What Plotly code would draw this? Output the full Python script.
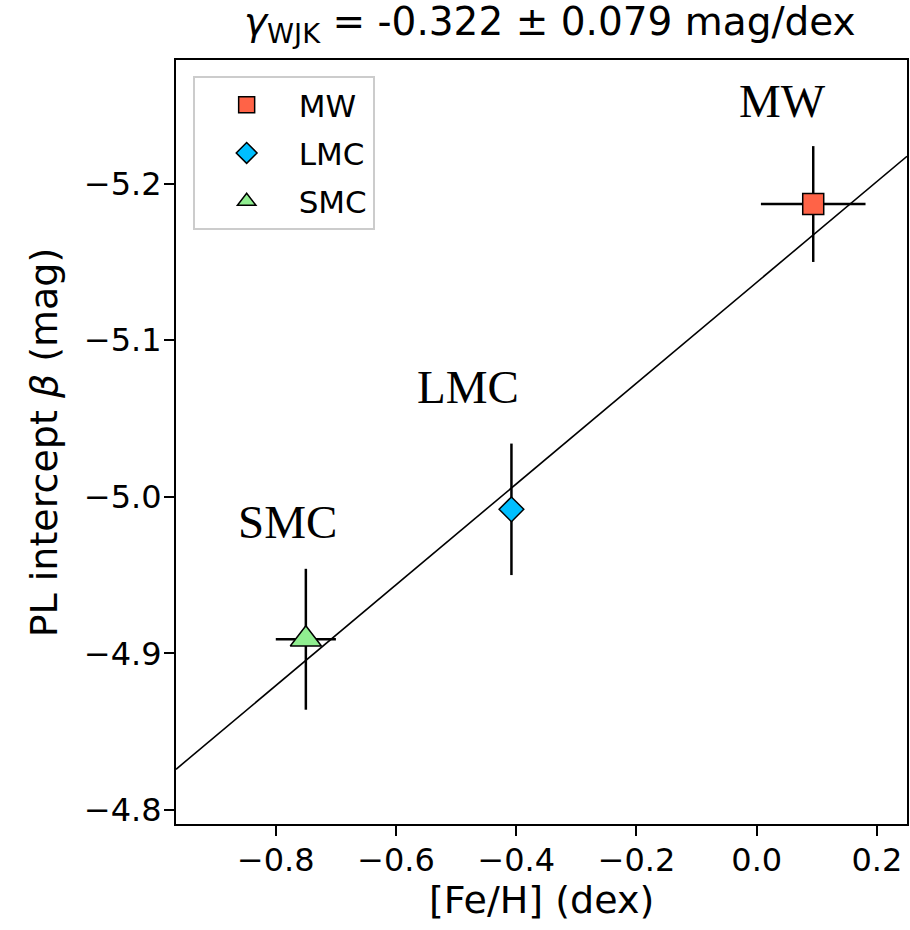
import plotly.graph_objects as go

# ---------------- data ----------------
galaxies = ["MW", "LMC", "SMC"]
feh = [0.094, -0.408, -0.750]
feh_err = [0.087, 0.0, 0.050]
beta = [-5.187, -4.992, -4.909]
beta_err = [0.037, 0.042, 0.045]
colors = ["tomato", "deepskyblue", "lightgreen"]
symbols = ["square", "diamond", "triangle-up"]
sizes = [21, 19, 27]

fit_intercept = -5.137
fit_slope = -0.322
fit_slope_err = 0.079

x_range = [-0.966, 0.25]
y_range = [-4.791, -5.279]   # reversed
x_ticks = [-0.8, -0.6, -0.4, -0.2, 0.0, 0.2]
y_ticks = [-5.2, -5.1, -5.0, -4.9, -4.8]

# label positions (data coords)
label_pos = {"MW": (0.043, -5.253), "LMC": (-0.481, -5.070), "SMC": (-0.780, -4.984)}

FONT = "DejaVu Sans"

fig = go.Figure()

# fit line across the full x range
fit_x = [x_range[0], x_range[1]]
fit_y = [fit_intercept + fit_slope * v for v in fit_x]
fig.add_trace(go.Scatter(x=fit_x, y=fit_y, mode="lines",
                         line=dict(color="black", width=1.6),
                         showlegend=False, hoverinfo="skip"))

for i, g in enumerate(galaxies):
    fig.add_trace(go.Scatter(
        x=[feh[i]], y=[beta[i]], mode="markers", name=g,
        legendgroup=g,
        marker=dict(symbol=symbols[i], size=sizes[i], color=colors[i],
                    line=dict(color="black", width=1.5)),
        error_x=dict(type="data", array=[feh_err[i]], color="black",
                     thickness=2.5, width=0, visible=feh_err[i] > 0),
        error_y=dict(type="data", array=[beta_err[i]], color="black",
                     thickness=2.5, width=0),
    ))

annotations = []
for g in galaxies:
    lx, ly = label_pos[g]
    annotations.append(dict(x=lx, y=ly, xref="x", yref="y", text=g,
                            showarrow=False, xanchor="center", yanchor="middle",
                            font=dict(family="Liberation Serif", size=47, color="black")))

# axis titles
annotations.append(dict(x=0.5, y=-76/764, xref="paper", yref="paper",
                        text="[Fe/H] (dex)", showarrow=False,
                        xanchor="center", yanchor="middle",
                        font=dict(family=FONT, size=38, color="black")))
annotations.append(dict(x=(44-176)/733, y=0.5, xref="paper", yref="paper",
                        text="PL intercept <i>β</i> (mag)", showarrow=False,
                        textangle=-90, xanchor="center", yanchor="middle",
                        font=dict(family=FONT, size=38, color="black")))
annotations.append(dict(x=(551-176)/733, y=1 + 36/764, xref="paper", yref="paper",
                        text=f"<i>γ</i><sub>WJK</sub> = {fit_slope:.3f} ± {fit_slope_err:.3f} mag/dex",
                        showarrow=False, xanchor="center", yanchor="middle",
                        font=dict(family=FONT, size=39, color="black")))

fig.update_layout(
    width=910, height=930,
    margin=dict(l=176, r=1, t=60, b=106, pad=0),
    paper_bgcolor="white", plot_bgcolor="white",
    font=dict(family=FONT, color="black"),
    annotations=annotations,
    showlegend=True,
    legend=dict(x=(192.7-176)/733, y=(824-76)/764, xanchor="left", yanchor="top",
                bgcolor="rgba(255,255,255,0.8)", bordercolor="#cccccc", borderwidth=2,
                font=dict(family=FONT, size=31, color="black"),
                tracegroupgap=5, itemwidth=94, entrywidth=104, entrywidthmode="pixels"),
)

fig.update_xaxes(range=x_range, tickvals=x_ticks,
                 ticktext=[f"{v:.1f}".replace("-", "\u2212") for v in x_ticks],
                 showgrid=False, zeroline=False,
                 showline=True, mirror=True, linecolor="black", linewidth=2,
                 ticks="outside", ticklen=10, tickwidth=2, tickcolor="black",
                 tickfont=dict(family=FONT, size=32, color="black"),
                 ticklabelstandoff=-3)
fig.update_yaxes(range=y_range, tickvals=y_ticks,
                 ticktext=[f"{v:.1f}".replace("-", "\u2212") for v in y_ticks],
                 showgrid=False, zeroline=False,
                 showline=True, mirror=True, linecolor="black", linewidth=2,
                 ticks="outside", ticklen=10, tickwidth=2, tickcolor="black",
                 tickfont=dict(family=FONT, size=32, color="black"),
                 ticklabelstandoff=-4)

fig.write_html("out.html")
